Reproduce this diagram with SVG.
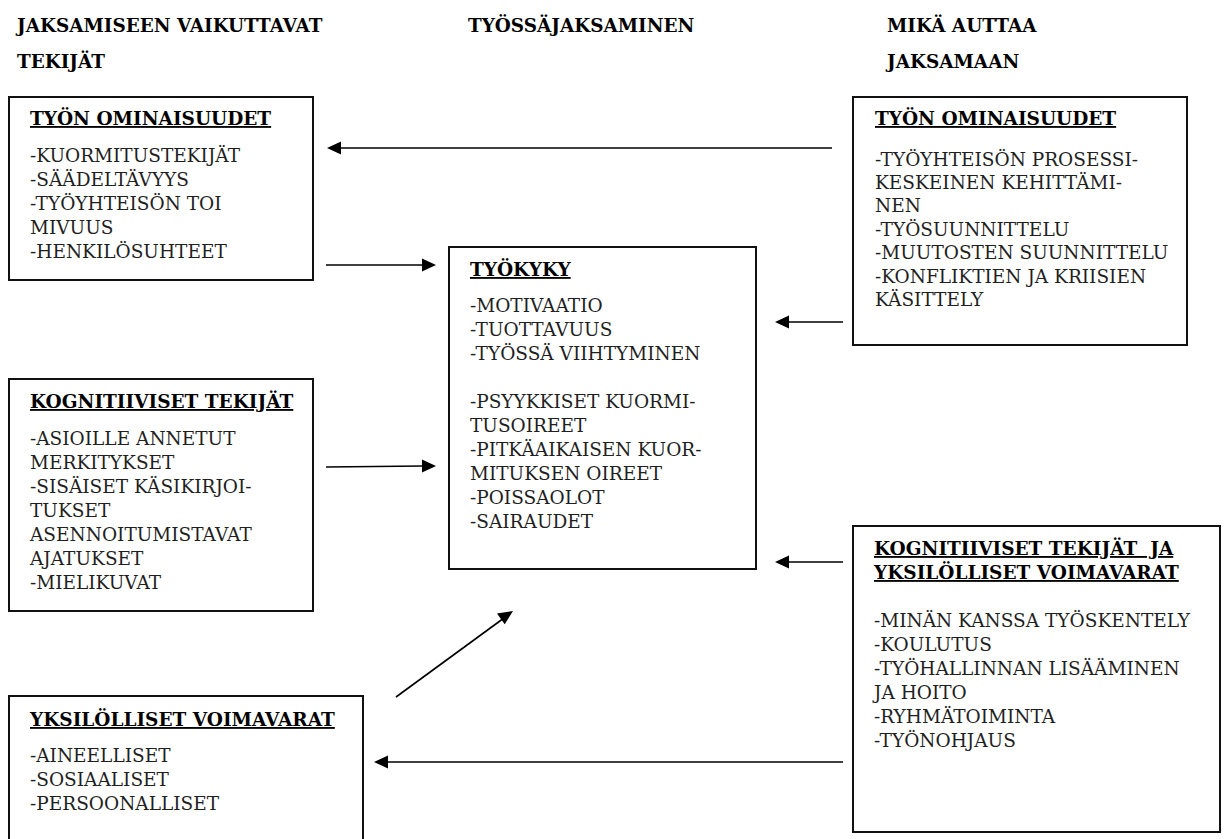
<svg xmlns="http://www.w3.org/2000/svg" width="1226" height="839" viewBox="0 0 1226 839">
<style>
text { font-family: "DejaVu Serif", serif; }
.hdr { font-size: 18.4px; font-weight: bold; fill: #000; }
.ttl { font-size: 18.5px; font-weight: bold; fill: #000; text-decoration: underline; }
.body { font-size: 18.5px; fill: #1f1f1f; }
.box { fill: #fff; stroke: #111; stroke-width: 2; }
.conn { stroke: #000; stroke-width: 1.6; fill: none; }
.head { fill: #000; }
</style>
<rect width="1226" height="839" fill="#fff"/>

<g id="headers">
<text class="hdr" x="17" y="32">JAKSAMISEEN VAIKUTTAVAT</text>
<text class="hdr" x="17" y="68">TEKIJÄT</text>
<text class="hdr" x="468" y="32">TYÖSSÄJAKSAMINEN</text>
<text class="hdr" x="887" y="32">MIKÄ AUTTAA</text>
<text class="hdr" x="887" y="68">JAKSAMAAN</text>
</g>

<g id="connectors">
<line class="conn" x1="832" y1="148" x2="337" y2="148"/>
<polygon class="head" points="327,148 341,141.5 341,154.5"/>
<line class="conn" x1="326" y1="265" x2="423" y2="265"/>
<polygon class="head" points="436,265 422,258.5 422,271.5"/>
<line class="conn" x1="326" y1="467" x2="423" y2="466"/>
<polygon class="head" points="436,466 422,459.5 422,472.5"/>
<line class="conn" x1="843" y1="322" x2="785" y2="322"/>
<polygon class="head" points="775,322 789,315.5 789,328.5"/>
<line class="conn" x1="843" y1="562" x2="785" y2="562"/>
<polygon class="head" points="775,562 789,555.5 789,568.5"/>
<line class="conn" x1="396" y1="697" x2="504" y2="618"/>
<polygon class="head" points="513,611 497,613.6 504.7,624.2"/>
<line class="conn" x1="843" y1="762" x2="384" y2="762"/>
<polygon class="head" points="374,762 388,755.5 388,768.5"/>
</g>

<g id="node-tyon-ominaisuudet-left">
<rect class="box" x="9" y="97" width="304" height="183"/>
<text class="ttl" x="30" y="125">TYÖN OMINAISUUDET</text>
<text class="body" x="30" y="162">-KUORMITUSTEKIJÄT</text>
<text class="body" x="30" y="186">-SÄÄDELTÄVYYS</text>
<text class="body" x="30" y="210">-TYÖYHTEISÖN TOI</text>
<text class="body" x="30" y="234">MIVUUS</text>
<text class="body" x="30" y="258">-HENKILÖSUHTEET</text>
</g>

<g id="node-kognitiiviset-left">
<rect class="box" x="9" y="379" width="304" height="232"/>
<text class="ttl" x="30" y="408">KOGNITIIVISET TEKIJÄT</text>
<text class="body" x="30" y="445">-ASIOILLE ANNETUT</text>
<text class="body" x="30" y="469">MERKITYKSET</text>
<text class="body" x="30" y="493">-SISÄISET KÄSIKIRJOI-</text>
<text class="body" x="30" y="517">TUKSET</text>
<text class="body" x="30" y="541">ASENNOITUMISTAVAT</text>
<text class="body" x="30" y="565">AJATUKSET</text>
<text class="body" x="30" y="589">-MIELIKUVAT</text>
</g>

<g id="node-yksilolliset-left">
<rect class="box" x="9" y="696" width="354" height="160"/>
<text class="ttl" x="30" y="726">YKSILÖLLISET VOIMAVARAT</text>
<text class="body" x="30" y="762">-AINEELLISET</text>
<text class="body" x="30" y="786">-SOSIAALISET</text>
<text class="body" x="30" y="810">-PERSOONALLISET</text>
</g>

<g id="node-tyokyky">
<rect class="box" x="449" y="247" width="307" height="322"/>
<text class="ttl" x="470" y="276">TYÖKYKY</text>
<text class="body" x="470" y="312">-MOTIVAATIO</text>
<text class="body" x="470" y="336">-TUOTTAVUUS</text>
<text class="body" x="470" y="360">-TYÖSSÄ VIIHTYMINEN</text>
<text class="body" x="470" y="408">-PSYYKKISET KUORMI-</text>
<text class="body" x="470" y="432">TUSOIREET</text>
<text class="body" x="470" y="456">-PITKÄAIKAISEN KUOR-</text>
<text class="body" x="470" y="480">MITUKSEN OIREET</text>
<text class="body" x="470" y="504">-POISSAOLOT</text>
<text class="body" x="470" y="528">-SAIRAUDET</text>
</g>

<g id="node-tyon-ominaisuudet-right">
<rect class="box" x="853" y="97" width="334" height="248"/>
<text class="ttl" x="875" y="125">TYÖN OMINAISUUDET</text>
<text class="body" x="875" y="166">-TYÖYHTEISÖN PROSESSI-</text>
<text class="body" x="875" y="189">KESKEINEN KEHITTÄMI-</text>
<text class="body" x="875" y="212">NEN</text>
<text class="body" x="875" y="236">-TYÖSUUNNITTELU</text>
<text class="body" x="875" y="259">-MUUTOSTEN SUUNNITTELU</text>
<text class="body" x="875" y="283">-KONFLIKTIEN JA KRIISIEN</text>
<text class="body" x="875" y="306">KÄSITTELY</text>
</g>

<g id="node-kognitiiviset-right">
<rect class="box" x="853" y="526" width="367" height="306"/>
<text class="ttl" x="874" y="555" xml:space="preserve">KOGNITIIVISET TEKIJÄT  JA</text>
<text class="ttl" x="874" y="579">YKSILÖLLISET VOIMAVARAT</text>
<text class="body" x="874" y="627">-MINÄN KANSSA TYÖSKENTELY</text>
<text class="body" x="874" y="651">-KOULUTUS</text>
<text class="body" x="874" y="675">-TYÖHALLINNAN LISÄÄMINEN</text>
<text class="body" x="874" y="699">JA HOITO</text>
<text class="body" x="874" y="723">-RYHMÄTOIMINTA</text>
<text class="body" x="874" y="747">-TYÖNOHJAUS</text>
</g>
</svg>
